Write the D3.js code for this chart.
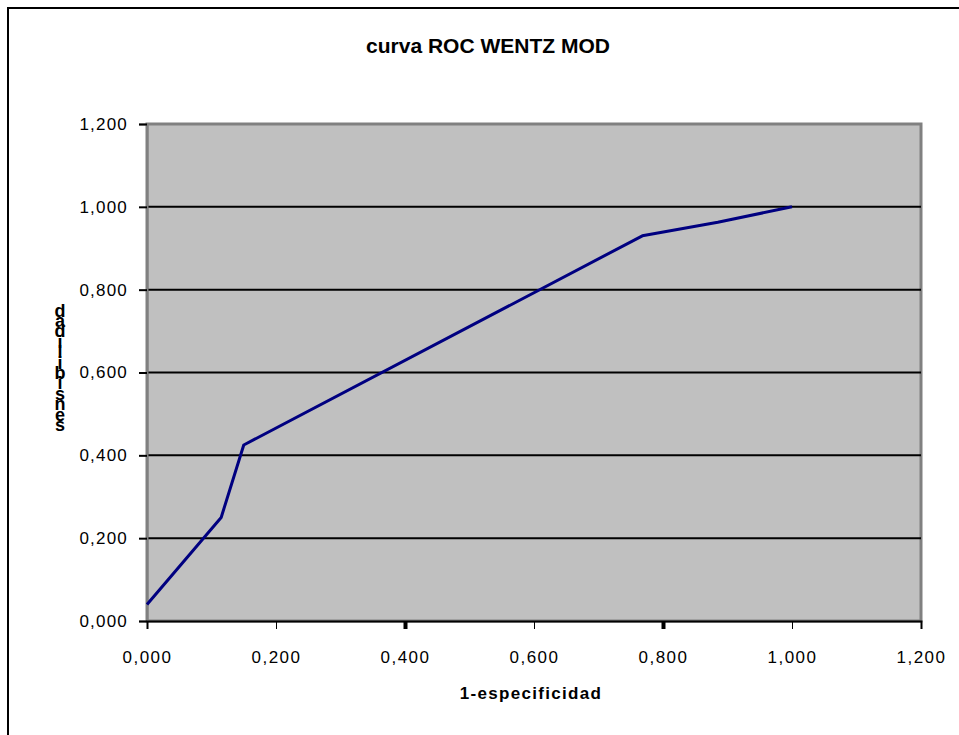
<!DOCTYPE html>
<html><head><meta charset="utf-8">
<script src="https://cdn.jsdelivr.net/npm/d3@7"></script>
<style>body{margin:0;background:#fff}svg{display:block}text{font-family:"Liberation Sans",Arial,sans-serif}</style>
</head><body>
<svg id="c" width="959" height="735"></svg>
<script>
const xValues = [0.000, 0.115, 0.150, 0.768, 0.885, 1.000];
const yValues = [0.040, 0.250, 0.425, 0.930, 0.963, 1.000];
const tickValues = [0, 0.2, 0.4, 0.6, 0.8, 1.0, 1.2];
const tickLabels = ["0,000","0,200","0,400","0,600","0,800","1,000","1,200"];
const title = "curva ROC WENTZ MOD";
const xTitle = "1-especificidad";
const yTitle = "sensibilidad";

const svg = d3.select("#c");
const L=147, R=921, T=124, B=621;
const x = d3.scaleLinear().domain([0,1.2]).range([L,R]);
const y = d3.scaleLinear().domain([0,1.2]).range([B,T]);

// outer frame
svg.append("rect").attr("x",8).attr("y",8).attr("width",1000).attr("height",1000)
  .attr("fill","none").attr("stroke","#000").attr("stroke-width",2);

// plot area
svg.append("rect").attr("x",L).attr("y",T).attr("width",R-L).attr("height",B-T)
  .attr("fill","#c0c0c0").attr("stroke","#808080").attr("stroke-width",3);

// gridlines
svg.append("g").selectAll("line").data(tickValues.filter(v=>v>0&&v<1.2)).join("line")
  .attr("x1",L).attr("x2",R).attr("y1",d=>y(d)).attr("y2",d=>y(d))
  .attr("stroke","#000").attr("stroke-width",2);

// y axis
const yAxis = d3.axisLeft(y).tickValues(tickValues).tickFormat((d,i)=>tickLabels[i]).tickSize(8).tickPadding(11);
const gy = svg.append("g").attr("transform",`translate(${L},0)`).call(yAxis);
gy.select(".domain").attr("stroke","#808080").attr("stroke-width",2);
gy.selectAll(".tick line").attr("stroke","#000").attr("stroke-width",2);
gy.selectAll("text").attr("font-size",17).attr("letter-spacing","1.2px").attr("fill","#000");

// x axis
const xAxis = d3.axisBottom(x).tickValues(tickValues).tickFormat((d,i)=>tickLabels[i]).tickSize(8).tickPadding(22);
const gx = svg.append("g").attr("transform",`translate(0,${B})`).call(xAxis);
gx.select(".domain").attr("stroke","#000").attr("stroke-width",2);
gx.selectAll(".tick line").attr("stroke","#000").attr("stroke-width",(d)=> (d===0.4||d===0.8)?4:1);
gx.selectAll("text").attr("font-size",17).attr("letter-spacing","1.5px").attr("fill","#000");

// line
const line = d3.line().x(d=>x(d[0])).y(d=>y(d[1]));
svg.append("path").datum(xValues.map((v,i)=>[v,yValues[i]]))
  .attr("d",line).attr("fill","none").attr("stroke","#000080").attr("stroke-width",3).attr("stroke-linejoin","round");

// title
svg.append("text").attr("x",488).attr("y",53).attr("text-anchor","middle")
  .attr("font-size",21).attr("font-weight","bold").text(title);
svg.append("text").attr("x",531).attr("y",699).attr("text-anchor","middle")
  .attr("font-size",17).attr("font-weight","bold").attr("letter-spacing","1.3px").text(xTitle);

// y title: stacked upright letters, reading bottom-to-top
const chars = yTitle.split("");
const gt = svg.append("text").attr("font-size",18).attr("font-weight","bold").attr("text-anchor","middle");
chars.forEach((c,i)=>{
  gt.append("tspan").attr("x",60).attr("y",431 - i*10.4).text(c);
});
</script>
</body></html>
